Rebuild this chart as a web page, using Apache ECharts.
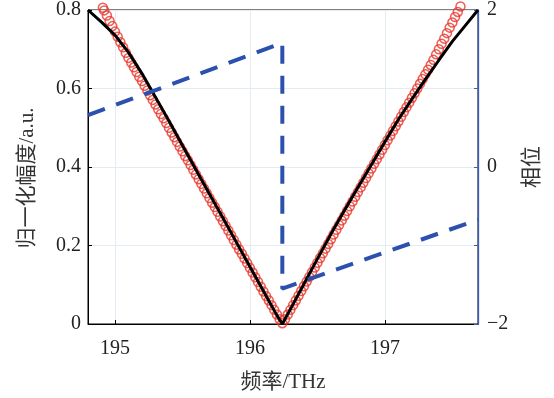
<!DOCTYPE html>
<html><head><meta charset="utf-8">
<script src="https://cdn.jsdelivr.net/npm/echarts@6/dist/echarts.min.js"></script>
<style>html,body{margin:0;padding:0;background:#fff}#c{width:554px;height:398px}</style>
</head><body><div id="c"></div>
<script>
// ---- data ----
const xTicks = [195, 196, 197];
const ampTicks = [0, 0.2, 0.4, 0.6, 0.8];
const phaseTicks = [-2, 0, 2];

// measured amplitude (red circles)
const measuredFreq = [
194.91,194.92,194.94,194.96,194.98,195.00,195.02,195.04,195.06,195.08,
195.10,195.12,195.14,195.16,195.18,195.20,195.22,195.24,195.26,195.28,
195.30,195.32,195.34,195.36,195.38,195.40,195.42,195.44,195.46,195.48,
195.50,195.52,195.54,195.56,195.58,195.60,195.62,195.64,195.66,195.68,
195.70,195.72,195.74,195.76,195.78,195.80,195.82,195.84,195.86,195.88,
195.90,195.92,195.94,195.96,195.98,196.00,196.02,196.04,196.06,196.08,
196.10,196.12,196.14,196.16,196.18,196.20,196.22,196.24,
196.26,196.28,196.30,196.32,196.34,196.36,196.38,196.40,196.42,196.44,
196.46,196.48,196.50,196.52,196.54,196.56,196.58,196.60,196.62,196.64,
196.66,196.68,196.70,196.72,196.74,196.76,196.78,196.80,196.82,196.84,
196.86,196.88,196.90,196.92,196.94,196.96,196.98,197.00,197.02,197.04,
197.06,197.08,197.10,197.12,197.14,197.16,197.18,197.20,197.22,197.24,
197.26,197.28,197.30,197.32,197.34,197.36,197.38,197.40,197.42,197.44,
197.46,197.48,197.50,197.52,197.54,197.56];
const measuredAmp = [
0.806,0.799,0.786,0.772,0.759,0.745,0.732,0.718,0.705,0.691,
0.678,0.666,0.654,0.642,0.630,0.619,0.607,0.595,0.583,0.571,
0.559,0.547,0.535,0.524,0.512,0.500,0.488,0.476,0.464,0.452,
0.440,0.428,0.417,0.405,0.393,0.381,0.369,0.357,0.345,0.333,
0.321,0.309,0.298,0.286,0.274,0.262,0.250,0.238,0.226,0.214,
0.202,0.190,0.179,0.167,0.155,0.143,0.131,0.119,0.107,0.095,
0.083,0.071,0.060,0.048,0.036,0.024,0.012,0.002,
0.012,0.024,0.036,0.048,0.060,0.072,0.084,0.096,0.108,0.120,
0.132,0.144,0.156,0.168,0.180,0.192,0.204,0.216,0.228,0.240,
0.252,0.264,0.276,0.288,0.300,0.312,0.324,0.336,0.348,0.360,
0.372,0.384,0.396,0.408,0.420,0.432,0.444,0.456,0.468,0.480,
0.492,0.504,0.516,0.528,0.540,0.552,0.564,0.576,0.588,0.600,
0.612,0.624,0.636,0.648,0.660,0.673,0.687,0.700,0.714,0.727,
0.741,0.755,0.768,0.782,0.795,0.809];

// fitted amplitude (black line)
const fitFreq = [194.80,194.90,195.00,195.10,195.20,195.30,195.40,195.50,195.60,195.70,
195.80,195.90,196.00,196.10,196.20,196.24,196.30,196.40,196.50,196.60,196.70,196.80,
196.90,197.00,197.10,197.20,197.30,197.40,197.50,197.60,197.69];
const fitAmp = [0.800,0.769,0.736,0.692,0.638,0.578,0.517,0.455,0.393,0.331,
0.270,0.208,0.146,0.084,0.022,0.000,0.038,0.102,0.166,0.229,0.289,0.348,
0.406,0.464,0.521,0.573,0.623,0.672,0.720,0.762,0.800];

// phase (blue dashed line, right axis)
const phaseFreq = [194.80, 196.24, 196.24, 197.69];
const phaseVal = [0.66, 1.58, -1.55, -0.67];

// ---- chart ----
const zip = (a, b) => a.map((v, i) => [v, b[i]]);
const serif = "'Liberation Serif', 'Times New Roman', serif";
const nameFont = "'Liberation Serif', 'Noto Sans CJK SC', serif";
const blue = '#2b50ad';
const axisBlue = '#3d5cb8';

const chart = echarts.init(document.getElementById('c'), null, {renderer: 'canvas'});
chart.setOption({
  animation: false,
  backgroundColor: '#fff',
  grid: {left: 88, right: 76, top: 10, bottom: 70, show: true, borderColor: '#000', borderWidth: 1, backgroundColor: 'transparent'},
  xAxis: {
    type: 'value', min: 194.8, max: 197.69, splitNumber: 3,
    axisLine: {show: true, lineStyle: {color: '#000', width: 1}},
    axisTick: {show: true, inside: true, length: 4, customValues: xTicks, lineStyle: {color: '#000'}},
    axisLabel: {customValues: xTicks, margin: 15, fontSize: 20, color: '#222', fontFamily: serif},
    splitLine: {show: true, lineStyle: {color: '#e4ecf3', width: 1}},
    name: '频率/THz', nameLocation: 'middle', nameGap: 48,
    nameTextStyle: {fontSize: 21, color: '#333', fontFamily: nameFont}
  },
  yAxis: [{
    type: 'value', position: 'left', min: 0, max: 0.8, interval: 0.2,
    axisLine: {show: true, lineStyle: {color: '#000', width: 1}},
    axisTick: {show: true, inside: true, length: 4, lineStyle: {color: '#000'}},
    axisLabel: {customValues: ampTicks, margin: 7, fontSize: 20, color: '#222', fontFamily: serif,
      formatter: v => (Math.abs(v) < 1e-9 ? '0' : v.toFixed(1))},
    splitLine: {show: true, lineStyle: {color: '#e4ecf3', width: 1}},
    name: '归一化幅度/a.u.', nameLocation: 'middle', nameGap: 50, nameRotate: 90,
    nameTextStyle: {fontSize: 21, color: '#333', fontFamily: nameFont, padding: [0, 22, 0, 0]}
  }, {
    type: 'value', position: 'right', min: -2, max: 2, interval: 1,
    axisLine: {show: true, lineStyle: {color: axisBlue, width: 1.3}},
    axisTick: {show: true, inside: true, length: 4, lineStyle: {color: axisBlue}},
    axisLabel: {customValues: phaseTicks, margin: 9, fontSize: 20, color: '#222', fontFamily: serif,
      formatter: v => (v < 0 ? '\u2212' + Math.abs(v) : String(v))},
    splitLine: {show: false},
    name: '相位', nameLocation: 'middle', nameGap: 44, nameRotate: 90,
    nameTextStyle: {fontSize: 21, color: '#333', fontFamily: nameFont}
  }],
  series: [{
    type: 'scatter', xAxisIndex: 0, yAxisIndex: 0, z: 2, clip: false, silent: true,
    data: zip(measuredFreq, measuredAmp),
    symbol: 'circle', symbolSize: 9,
    itemStyle: {color: 'rgba(255,255,255,0)', borderColor: '#e8362c', borderWidth: 1.5}
  }, {
    type: 'line', xAxisIndex: 0, yAxisIndex: 0, z: 3, silent: true,
    data: zip(fitFreq, fitAmp), showSymbol: false, symbol: 'none',
    lineStyle: {color: '#000', width: 3}
  }, {
    type: 'line', xAxisIndex: 0, yAxisIndex: 1, z: 4, silent: true,
    data: zip(phaseFreq, phaseVal), showSymbol: false, symbol: 'none',
    lineStyle: {color: blue, width: 4, type: [18, 12], cap: 'butt'}
  }]
});
</script>
</body></html>
